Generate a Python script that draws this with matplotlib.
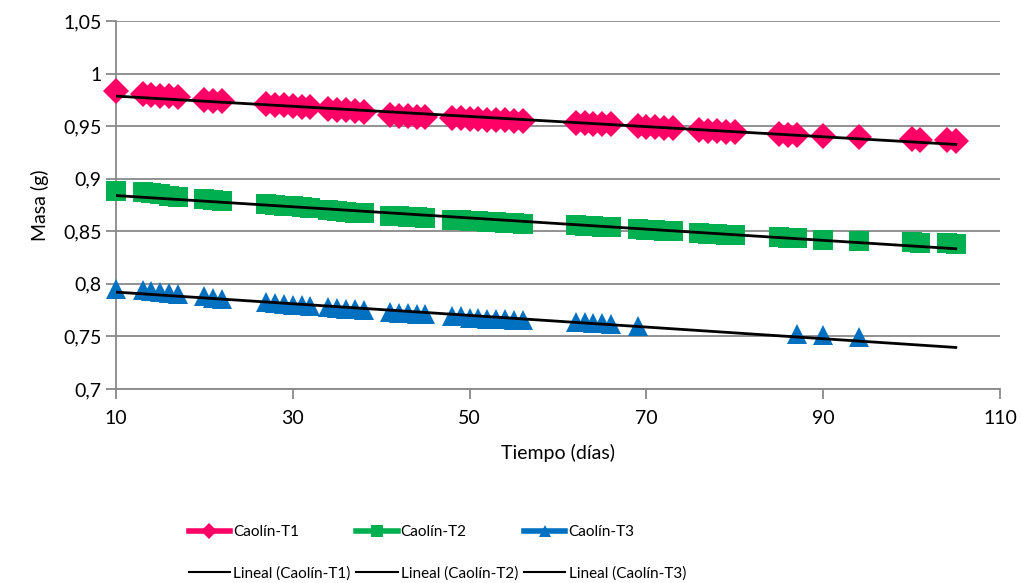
import numpy as np
import matplotlib.pyplot as plt
from matplotlib.lines import Line2D
from matplotlib.ticker import FuncFormatter

plt.rcParams['font.family'] = ['Lato', 'DejaVu Sans']

# days of measurement (T1 and T2 share them)
dias = [10, 13, 14, 15, 16, 17, 20, 21, 22, 27, 28, 29, 30, 31, 32,
        34, 35, 36, 37, 38, 41, 42, 43, 44, 45, 48, 49, 50, 51, 52, 53, 54, 55, 56,
        62, 63, 64, 65, 66, 69, 70, 71, 72, 73, 76, 77, 78, 79, 80,
        85, 86, 87, 90, 94, 100, 101, 104, 105]

masa_t1 = [0.983, 0.981, 0.980, 0.979, 0.979, 0.978, 0.975, 0.974, 0.974,
           0.971, 0.970, 0.970, 0.969, 0.968, 0.968, 0.966, 0.965, 0.965, 0.964, 0.963,
           0.961, 0.960, 0.960, 0.959, 0.959, 0.958, 0.958, 0.957, 0.957, 0.956, 0.956,
           0.956, 0.955, 0.955, 0.953, 0.953, 0.952, 0.952, 0.952, 0.950, 0.949, 0.949,
           0.948, 0.948, 0.946, 0.945, 0.945, 0.944, 0.944, 0.943, 0.942, 0.942,
           0.941, 0.940, 0.938, 0.937, 0.937, 0.936]

masa_t2 = [0.888, 0.887, 0.886, 0.885, 0.884, 0.883, 0.881, 0.880, 0.879,
           0.876, 0.875, 0.874, 0.874, 0.873, 0.872, 0.870, 0.869, 0.868, 0.867, 0.867,
           0.865, 0.865, 0.864, 0.864, 0.863, 0.861, 0.861, 0.860, 0.860, 0.859, 0.859,
           0.858, 0.858, 0.857, 0.856, 0.855, 0.855, 0.854, 0.854, 0.852, 0.851, 0.851,
           0.850, 0.850, 0.848, 0.847, 0.847, 0.846, 0.846, 0.845, 0.844, 0.844,
           0.842, 0.841, 0.840, 0.839, 0.839, 0.838]

dias_t3 = [10, 13, 14, 15, 16, 17, 20, 21, 22, 27, 28, 29, 30, 31, 32,
           34, 35, 36, 37, 38, 41, 42, 43, 44, 45, 48, 49, 50, 51, 52, 53, 54, 55, 56,
           62, 63, 64, 65, 66, 69, 87, 90, 94]
masa_t3 = [0.795, 0.794, 0.793, 0.792, 0.791, 0.790, 0.788, 0.787, 0.786,
           0.783, 0.782, 0.781, 0.780, 0.780, 0.779, 0.778, 0.777, 0.776, 0.776, 0.775,
           0.773, 0.772, 0.772, 0.771, 0.771, 0.769, 0.769, 0.768, 0.768, 0.767, 0.767,
           0.767, 0.766, 0.766, 0.764, 0.764, 0.763, 0.763, 0.762, 0.760,
           0.752, 0.751, 0.749]

series = [
    ("Caolín-T1", dias, masa_t1, "#FF0066", "D", 13),
    ("Caolín-T2", dias, masa_t2, "#00B050", "s", 14),
    ("Caolín-T3", dias_t3, masa_t3, "#0070C0", "^", 15),
]

f = plt.figure(figsize=(10.22, 5.83), dpi=100)
ax = f.add_axes([116/1022, 1 - 389/583, 884/1022, 368/583])

grid_c = "#898989"
trend_x = np.array([min(dias), max(dias)])

handles = []
labels = []
trend_handles = []
trend_labels = []
for name, x, y, col, mk, ms in series:
    ax.plot(x, y, linestyle="", marker=mk, markersize=ms, color=col,
            markeredgewidth=0, zorder=3, clip_on=False)
    p = np.polyfit(x, y, 1)
    ax.plot(trend_x, np.polyval(p, trend_x), color="black", lw=2, zorder=4)
    handles.append(Line2D([], [], color=col, lw=4, marker=mk, markersize=8,
                          markeredgewidth=0))
    labels.append(name)
    trend_handles.append(Line2D([], [], color="black", lw=1.5))
    trend_labels.append("Lineal (" + name + ")")

ax.set_xlim(10, 110)
ax.set_ylim(0.7, 1.05)
ax.set_xticks(np.arange(10, 111, 20))
ax.set_yticks(np.arange(0.7, 1.051, 0.05))
ax.yaxis.set_major_formatter(FuncFormatter(lambda v, pos: f"{v:.2f}".rstrip("0").rstrip(",.").replace(".", ",")))

ax.grid(True, axis="y", color=grid_c, lw=1.3)
ax.set_axisbelow(True)
for s in ["top", "right"]:
    ax.spines[s].set_visible(False)
for s in ["left", "bottom"]:
    ax.spines[s].set_color(grid_c)
    ax.spines[s].set_linewidth(1.3)
ax.tick_params(axis="both", direction="out", length=7, width=1.3, color=grid_c,
               labelsize=14, labelcolor="black")
ax.tick_params(axis="x", pad=8)

ax.set_xlabel("Tiempo (días)", fontsize=14, labelpad=12)
ax.set_ylabel("Masa (g)", fontsize=14, labelpad=10)

# column-major order so each column pairs a series with its trend line
leg_h, leg_l = [], []
for i in range(3):
    leg_h += [handles[i], trend_handles[i]]
    leg_l += [labels[i], trend_labels[i]]
f.legend(leg_h, leg_l, ncol=3, loc="center left", bbox_to_anchor=(181/1022, 1 - 553/583),
         frameon=False, fontsize=11, handlelength=2.7, handletextpad=0.2,
         columnspacing=0.4, labelspacing=1.75, borderpad=0)

f.savefig("out.png", dpi=100)
